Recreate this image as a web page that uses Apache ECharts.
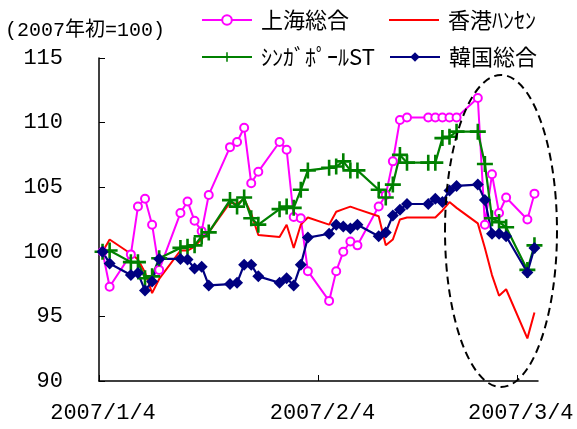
<!DOCTYPE html>
<html><head><meta charset="utf-8">
<script src="https://cdn.jsdelivr.net/npm/echarts@6/dist/echarts.min.js"></script>
<style>html,body{margin:0;padding:0;background:#fff}#c{width:577px;height:429px}</style>
</head><body><div id="c"></div>
<script>
// trading days (2007, month/day)
const dates = ['1/4','1/5','1/8','1/9','1/10','1/11','1/12','1/15','1/16','1/17','1/18','1/19',
  '1/22','1/23','1/24','1/25','1/26','1/29','1/30','1/31','2/1','2/2','2/5','2/6','2/7','2/8','2/9',
  '2/12','2/13','2/14','2/15','2/16','2/19','2/20','2/21','2/22','2/23','2/26','2/27','2/28','3/1','3/2','3/5','3/6'];
const shanghai = [100,97.3,99.8,103.5,104.1,102.1,98.6,103.0,103.9,102.4,101.6,104.4,
  108.1,108.5,109.6,105.3,106.2,108.5,107.9,102.7,102.6,98.5,96.2,98.5,100.0,100.8,100.5,
  103.5,104.4,107.0,110.2,110.4,110.4,110.4,110.4,110.4,110.4,111.9,102.1,106.0,103.0,104.2,102.5,104.5];
const hongkong = [100,100.95,99.85,99.4,98.4,96.8,97.9,100.1,100.1,100.4,101.0,101.5,
  103.8,103.7,104.1,102.95,101.3,101.15,102.1,100.3,102.1,102.65,102.1,103.1,103.3,103.5,103.3,
  102.75,100.5,100.95,102.5,102.65,102.65,102.65,103.2,103.85,103.4,102.2,100.3,98.2,96.6,97.1,93.3,95.3];
const singapore = [100,100.1,99.2,99.2,97.95,98.1,99.5,100.3,100.4,100.5,101.2,101.5,
  104.0,103.5,104.2,102.6,102.1,103.3,103.5,103.4,104.8,106.3,106.5,106.6,107.0,106.3,106.3,
  104.8,104.2,105.2,107.5,106.9,106.9,106.9,108.8,108.9,109.3,109.3,106.8,102.6,102.3,101.9,98.6,100.5];
const korea = [100,99.1,98.2,98.35,97.0,97.7,99.45,99.45,99.4,98.7,98.85,97.4,
  97.5,97.6,99.0,99.0,98.1,97.6,97.95,97.4,99.0,101.1,101.4,102.1,101.95,101.8,102.1,
  101.2,101.5,102.8,103.25,103.7,103.7,104.1,103.85,104.75,105.1,105.2,104.0,101.4,101.4,101.2,98.4,100.3];
const seriesNames = ['上海総合','香港ﾊﾝｾﾝ','ｼﾝｶﾞﾎﾟｰﾙST','韓国総合'];
const xTickDates = ['1/4','2/4','3/4'];
const xTickLabels = ['2007/1/4','2007/2/4','2007/3/4'];
const yMin = 90, yMax = 115, yStep = 5;
const unitLabel = '(2007年初=100)';

function dayOff(s){ const p = s.split('/').map(Number); return Math.round((Date.UTC(2007,p[0]-1,p[1]) - Date.UTC(2007,0,4))/86400000); }
const xMax = dayOff(dates[dates.length-1]) + 1;
const tickVals = xTickDates.map(dayOff);
function pts(vals){ return vals.map((v,i)=>[dayOff(dates[i]) + 0.5, v]); }

const plusPath = 'path://M6.7,0H9.3V6.7H16V9.3H9.3V16H6.7V9.3H0V6.7H6.7Z';
const labelFont = "'Liberation Mono','Noto Sans CJK JP',monospace";
const legFont = "'Noto Sans CJK JP',sans-serif";

const chart = echarts.init(document.getElementById('c'), null, {renderer:'canvas'});
function leg(name, left, top, extra){
  return Object.assign({data:[name], left:left, top:top, padding:0, itemWidth:50, itemHeight:12, itemGap:0,
    textStyle:{fontFamily:legFont, fontSize:22, color:'#000', padding:[0,0,0,4]}, selectedMode:false}, extra||{});
}
chart.setOption({
  animation:false,
  backgroundColor:'#fff',
  grid:{left:99, right:39, top:58, bottom:48, containLabel:false},
  legend:[leg(seriesNames[0],201,9),
    leg(seriesNames[1],389,9,{data:[{name:seriesNames[1], icon:'path://M0,0H50V2H0Z'}], itemHeight:2}),
    leg(seriesNames[2],201,46), leg(seriesNames[3],389,46)],
  title:{text:unitLabel, left:5, top:21, padding:0, textStyle:{fontFamily:labelFont, fontSize:20, fontWeight:'normal', color:'#000'}},
  xAxis:{type:'value', min:0, max:xMax,
    axisLine:{show:true, lineStyle:{color:'#000', width:1.5}},
    axisTick:{show:true, inside:true, length:6, customValues:tickVals, lineStyle:{color:'#000', width:1}},
    axisLabel:{customValues:tickVals, margin:21, padding:[0,0,0,8], fontFamily:labelFont, fontSize:22, color:'#000',
      formatter:v=>{const i=tickVals.indexOf(Math.round(v)); return i>=0?xTickLabels[i]:'';}},
    splitLine:{show:false}},
  yAxis:{type:'value', min:yMin, max:yMax, interval:yStep,
    axisLine:{show:true, lineStyle:{color:'#000', width:1.5}},
    axisTick:{show:true, inside:true, length:6, lineStyle:{color:'#000', width:1}},
    axisLabel:{margin:36, fontFamily:labelFont, fontSize:22, color:'#000'},
    splitLine:{show:false}},
  series:[
    {name:seriesNames[0], type:'line', data:pts(shanghai), symbol:'emptyCircle', symbolSize:8, showAllSymbol:true,
      color:'#FF00FF', lineStyle:{width:2, color:'#FF00FF'}, itemStyle:{color:'#FF00FF', borderWidth:1.7}},
    {name:seriesNames[1], type:'line', data:pts(hongkong), symbol:'none', showSymbol:false,
      color:'#FF0000', lineStyle:{width:2, color:'#FF0000'}},
    {name:seriesNames[2], type:'line', data:pts(singapore), symbol:plusPath, symbolSize:16, showAllSymbol:true,
      color:'#008000', lineStyle:{width:2.2, color:'#008000'}, itemStyle:{color:'#008000'}},
    {name:seriesNames[3], type:'line', data:pts(korea), symbol:'diamond', symbolSize:12, showAllSymbol:true,
      color:'#000080', lineStyle:{width:2.2, color:'#000080'}, itemStyle:{color:'#000080'}}
  ],
  graphic:[{type:'ellipse', shape:{cx:501, cy:231, rx:56, ry:156}, z:100,
    style:{fill:'none', stroke:'#000', lineWidth:2, lineDash:[8,5]}}]
});
</script></body></html>
